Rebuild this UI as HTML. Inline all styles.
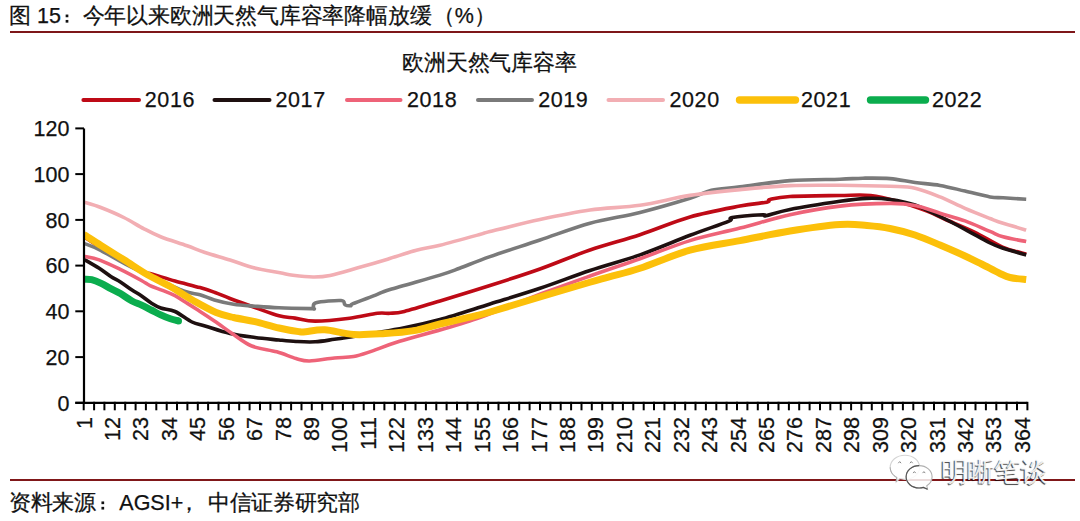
<!DOCTYPE html>
<html><head><meta charset="utf-8"><style>
html,body{margin:0;padding:0;background:#fff;width:1080px;height:521px;overflow:hidden}
body{position:relative;font-family:"Liberation Sans",sans-serif;color:#000}
.t{position:absolute;white-space:nowrap;line-height:1;font-family:"Liberation Sans",sans-serif;-webkit-text-stroke:0.25px #111}
svg{position:absolute;left:0;top:0}
svg text{font-family:"Liberation Sans",sans-serif;font-size:21.5px;fill:#111;stroke:#111;stroke-width:0.25px}
</style></head><body>
<div class="t" style="left:9.3px;top:6.0px;font-size:21.5px;letter-spacing:0.00px;color:#111;">图</div>
<div class="t" style="left:37.0px;top:5.6px;font-size:21.5px;letter-spacing:0.00px;color:#111;">15</div>
<div class="t" style="left:82.7px;top:6.0px;font-size:21.5px;letter-spacing:-0.20px;color:#111;">今年以来欧洲天然气库容率降幅放缓</div>
<div class="t" style="left:432.7px;top:6.0px;font-size:21.5px;letter-spacing:0.00px;color:#111;">（</div>
<div class="t" style="left:454.8px;top:5.6px;font-size:21.5px;letter-spacing:0.00px;color:#111;">%</div>
<div class="t" style="left:474.0px;top:6.0px;font-size:21.5px;letter-spacing:0.00px;color:#111;">）</div>
<div class="t" style="left:402.3px;top:52.5px;font-size:21.5px;letter-spacing:-0.25px;color:#111;">欧洲天然气库容率</div>
<div class="t" style="left:9.0px;top:493.0px;font-size:21.5px;letter-spacing:-0.50px;color:#111;">资料来源</div>
<div class="t" style="left:119.3px;top:493.0px;font-size:21.5px;letter-spacing:0.00px;color:#111;">AGSI+</div>
<div class="t" style="left:177.5px;top:493.0px;font-size:21.5px;letter-spacing:0.00px;color:#111;">，</div>
<div class="t" style="left:207.9px;top:493.0px;font-size:21.5px;letter-spacing:-0.30px;color:#111;">中信证券研究部</div>
<div style="position:absolute;left:10px;top:31px;width:1064.5px;height:2.2px;background:#7E1619"></div>
<svg width="1080" height="521" viewBox="0 0 1080 521">
<line x1="75.3" y1="402.8" x2="84" y2="402.8" stroke="#000" stroke-width="2"/>
<text x="69.4" y="410.5" text-anchor="end">0</text>
<line x1="75.3" y1="357.1" x2="84" y2="357.1" stroke="#000" stroke-width="2"/>
<text x="69.4" y="364.8" text-anchor="end">20</text>
<line x1="75.3" y1="311.3" x2="84" y2="311.3" stroke="#000" stroke-width="2"/>
<text x="69.4" y="319.0" text-anchor="end">40</text>
<line x1="75.3" y1="265.6" x2="84" y2="265.6" stroke="#000" stroke-width="2"/>
<text x="69.4" y="273.3" text-anchor="end">60</text>
<line x1="75.3" y1="219.9" x2="84" y2="219.9" stroke="#000" stroke-width="2"/>
<text x="69.4" y="227.6" text-anchor="end">80</text>
<line x1="75.3" y1="174.1" x2="84" y2="174.1" stroke="#000" stroke-width="2"/>
<text x="69.4" y="181.8" text-anchor="end">100</text>
<line x1="75.3" y1="128.4" x2="84" y2="128.4" stroke="#000" stroke-width="2"/>
<text x="69.4" y="136.1" text-anchor="end">120</text>
<line x1="83.7" y1="401.8" x2="83.7" y2="410.3" stroke="#000" stroke-width="2"/>
<line x1="94.1" y1="401.8" x2="94.1" y2="410.3" stroke="#000" stroke-width="2"/>
<line x1="104.4" y1="401.8" x2="104.4" y2="410.3" stroke="#000" stroke-width="2"/>
<line x1="114.8" y1="401.8" x2="114.8" y2="410.3" stroke="#000" stroke-width="2"/>
<line x1="125.2" y1="401.8" x2="125.2" y2="410.3" stroke="#000" stroke-width="2"/>
<line x1="135.6" y1="401.8" x2="135.6" y2="410.3" stroke="#000" stroke-width="2"/>
<line x1="145.9" y1="401.8" x2="145.9" y2="410.3" stroke="#000" stroke-width="2"/>
<line x1="156.3" y1="401.8" x2="156.3" y2="410.3" stroke="#000" stroke-width="2"/>
<line x1="166.7" y1="401.8" x2="166.7" y2="410.3" stroke="#000" stroke-width="2"/>
<line x1="177.0" y1="401.8" x2="177.0" y2="410.3" stroke="#000" stroke-width="2"/>
<line x1="187.4" y1="401.8" x2="187.4" y2="410.3" stroke="#000" stroke-width="2"/>
<line x1="197.8" y1="401.8" x2="197.8" y2="410.3" stroke="#000" stroke-width="2"/>
<line x1="208.1" y1="401.8" x2="208.1" y2="410.3" stroke="#000" stroke-width="2"/>
<line x1="218.5" y1="401.8" x2="218.5" y2="410.3" stroke="#000" stroke-width="2"/>
<line x1="228.9" y1="401.8" x2="228.9" y2="410.3" stroke="#000" stroke-width="2"/>
<line x1="239.2" y1="401.8" x2="239.2" y2="410.3" stroke="#000" stroke-width="2"/>
<line x1="249.6" y1="401.8" x2="249.6" y2="410.3" stroke="#000" stroke-width="2"/>
<line x1="260.0" y1="401.8" x2="260.0" y2="410.3" stroke="#000" stroke-width="2"/>
<line x1="270.4" y1="401.8" x2="270.4" y2="410.3" stroke="#000" stroke-width="2"/>
<line x1="280.7" y1="401.8" x2="280.7" y2="410.3" stroke="#000" stroke-width="2"/>
<line x1="291.1" y1="401.8" x2="291.1" y2="410.3" stroke="#000" stroke-width="2"/>
<line x1="301.5" y1="401.8" x2="301.5" y2="410.3" stroke="#000" stroke-width="2"/>
<line x1="311.8" y1="401.8" x2="311.8" y2="410.3" stroke="#000" stroke-width="2"/>
<line x1="322.2" y1="401.8" x2="322.2" y2="410.3" stroke="#000" stroke-width="2"/>
<line x1="332.6" y1="401.8" x2="332.6" y2="410.3" stroke="#000" stroke-width="2"/>
<line x1="342.9" y1="401.8" x2="342.9" y2="410.3" stroke="#000" stroke-width="2"/>
<line x1="353.3" y1="401.8" x2="353.3" y2="410.3" stroke="#000" stroke-width="2"/>
<line x1="363.7" y1="401.8" x2="363.7" y2="410.3" stroke="#000" stroke-width="2"/>
<line x1="374.1" y1="401.8" x2="374.1" y2="410.3" stroke="#000" stroke-width="2"/>
<line x1="384.4" y1="401.8" x2="384.4" y2="410.3" stroke="#000" stroke-width="2"/>
<line x1="394.8" y1="401.8" x2="394.8" y2="410.3" stroke="#000" stroke-width="2"/>
<line x1="405.2" y1="401.8" x2="405.2" y2="410.3" stroke="#000" stroke-width="2"/>
<line x1="415.5" y1="401.8" x2="415.5" y2="410.3" stroke="#000" stroke-width="2"/>
<line x1="425.9" y1="401.8" x2="425.9" y2="410.3" stroke="#000" stroke-width="2"/>
<line x1="436.3" y1="401.8" x2="436.3" y2="410.3" stroke="#000" stroke-width="2"/>
<line x1="446.6" y1="401.8" x2="446.6" y2="410.3" stroke="#000" stroke-width="2"/>
<line x1="457.0" y1="401.8" x2="457.0" y2="410.3" stroke="#000" stroke-width="2"/>
<line x1="467.4" y1="401.8" x2="467.4" y2="410.3" stroke="#000" stroke-width="2"/>
<line x1="477.8" y1="401.8" x2="477.8" y2="410.3" stroke="#000" stroke-width="2"/>
<line x1="488.1" y1="401.8" x2="488.1" y2="410.3" stroke="#000" stroke-width="2"/>
<line x1="498.5" y1="401.8" x2="498.5" y2="410.3" stroke="#000" stroke-width="2"/>
<line x1="508.9" y1="401.8" x2="508.9" y2="410.3" stroke="#000" stroke-width="2"/>
<line x1="519.2" y1="401.8" x2="519.2" y2="410.3" stroke="#000" stroke-width="2"/>
<line x1="529.6" y1="401.8" x2="529.6" y2="410.3" stroke="#000" stroke-width="2"/>
<line x1="540.0" y1="401.8" x2="540.0" y2="410.3" stroke="#000" stroke-width="2"/>
<line x1="550.4" y1="401.8" x2="550.4" y2="410.3" stroke="#000" stroke-width="2"/>
<line x1="560.7" y1="401.8" x2="560.7" y2="410.3" stroke="#000" stroke-width="2"/>
<line x1="571.1" y1="401.8" x2="571.1" y2="410.3" stroke="#000" stroke-width="2"/>
<line x1="581.5" y1="401.8" x2="581.5" y2="410.3" stroke="#000" stroke-width="2"/>
<line x1="591.8" y1="401.8" x2="591.8" y2="410.3" stroke="#000" stroke-width="2"/>
<line x1="602.2" y1="401.8" x2="602.2" y2="410.3" stroke="#000" stroke-width="2"/>
<line x1="612.6" y1="401.8" x2="612.6" y2="410.3" stroke="#000" stroke-width="2"/>
<line x1="622.9" y1="401.8" x2="622.9" y2="410.3" stroke="#000" stroke-width="2"/>
<line x1="633.3" y1="401.8" x2="633.3" y2="410.3" stroke="#000" stroke-width="2"/>
<line x1="643.7" y1="401.8" x2="643.7" y2="410.3" stroke="#000" stroke-width="2"/>
<line x1="654.0" y1="401.8" x2="654.0" y2="410.3" stroke="#000" stroke-width="2"/>
<line x1="664.4" y1="401.8" x2="664.4" y2="410.3" stroke="#000" stroke-width="2"/>
<line x1="674.8" y1="401.8" x2="674.8" y2="410.3" stroke="#000" stroke-width="2"/>
<line x1="685.2" y1="401.8" x2="685.2" y2="410.3" stroke="#000" stroke-width="2"/>
<line x1="695.5" y1="401.8" x2="695.5" y2="410.3" stroke="#000" stroke-width="2"/>
<line x1="705.9" y1="401.8" x2="705.9" y2="410.3" stroke="#000" stroke-width="2"/>
<line x1="716.3" y1="401.8" x2="716.3" y2="410.3" stroke="#000" stroke-width="2"/>
<line x1="726.6" y1="401.8" x2="726.6" y2="410.3" stroke="#000" stroke-width="2"/>
<line x1="737.0" y1="401.8" x2="737.0" y2="410.3" stroke="#000" stroke-width="2"/>
<line x1="747.4" y1="401.8" x2="747.4" y2="410.3" stroke="#000" stroke-width="2"/>
<line x1="757.8" y1="401.8" x2="757.8" y2="410.3" stroke="#000" stroke-width="2"/>
<line x1="768.1" y1="401.8" x2="768.1" y2="410.3" stroke="#000" stroke-width="2"/>
<line x1="778.5" y1="401.8" x2="778.5" y2="410.3" stroke="#000" stroke-width="2"/>
<line x1="788.9" y1="401.8" x2="788.9" y2="410.3" stroke="#000" stroke-width="2"/>
<line x1="799.2" y1="401.8" x2="799.2" y2="410.3" stroke="#000" stroke-width="2"/>
<line x1="809.6" y1="401.8" x2="809.6" y2="410.3" stroke="#000" stroke-width="2"/>
<line x1="820.0" y1="401.8" x2="820.0" y2="410.3" stroke="#000" stroke-width="2"/>
<line x1="830.3" y1="401.8" x2="830.3" y2="410.3" stroke="#000" stroke-width="2"/>
<line x1="840.7" y1="401.8" x2="840.7" y2="410.3" stroke="#000" stroke-width="2"/>
<line x1="851.1" y1="401.8" x2="851.1" y2="410.3" stroke="#000" stroke-width="2"/>
<line x1="861.4" y1="401.8" x2="861.4" y2="410.3" stroke="#000" stroke-width="2"/>
<line x1="871.8" y1="401.8" x2="871.8" y2="410.3" stroke="#000" stroke-width="2"/>
<line x1="882.2" y1="401.8" x2="882.2" y2="410.3" stroke="#000" stroke-width="2"/>
<line x1="892.6" y1="401.8" x2="892.6" y2="410.3" stroke="#000" stroke-width="2"/>
<line x1="902.9" y1="401.8" x2="902.9" y2="410.3" stroke="#000" stroke-width="2"/>
<line x1="913.3" y1="401.8" x2="913.3" y2="410.3" stroke="#000" stroke-width="2"/>
<line x1="923.7" y1="401.8" x2="923.7" y2="410.3" stroke="#000" stroke-width="2"/>
<line x1="934.0" y1="401.8" x2="934.0" y2="410.3" stroke="#000" stroke-width="2"/>
<line x1="944.4" y1="401.8" x2="944.4" y2="410.3" stroke="#000" stroke-width="2"/>
<line x1="954.8" y1="401.8" x2="954.8" y2="410.3" stroke="#000" stroke-width="2"/>
<line x1="965.1" y1="401.8" x2="965.1" y2="410.3" stroke="#000" stroke-width="2"/>
<line x1="975.5" y1="401.8" x2="975.5" y2="410.3" stroke="#000" stroke-width="2"/>
<line x1="985.9" y1="401.8" x2="985.9" y2="410.3" stroke="#000" stroke-width="2"/>
<line x1="996.3" y1="401.8" x2="996.3" y2="410.3" stroke="#000" stroke-width="2"/>
<line x1="1006.6" y1="401.8" x2="1006.6" y2="410.3" stroke="#000" stroke-width="2"/>
<line x1="1017.0" y1="401.8" x2="1017.0" y2="410.3" stroke="#000" stroke-width="2"/>
<line x1="1027.4" y1="401.8" x2="1027.4" y2="410.3" stroke="#000" stroke-width="2"/>
<text transform="translate(91.5,417) rotate(-90)" text-anchor="end">1</text>
<text transform="translate(119.9,417) rotate(-90)" text-anchor="end">12</text>
<text transform="translate(148.4,417) rotate(-90)" text-anchor="end">23</text>
<text transform="translate(176.8,417) rotate(-90)" text-anchor="end">34</text>
<text transform="translate(205.2,417) rotate(-90)" text-anchor="end">45</text>
<text transform="translate(233.7,417) rotate(-90)" text-anchor="end">56</text>
<text transform="translate(262.1,417) rotate(-90)" text-anchor="end">67</text>
<text transform="translate(290.5,417) rotate(-90)" text-anchor="end">78</text>
<text transform="translate(319.0,417) rotate(-90)" text-anchor="end">89</text>
<text transform="translate(347.4,417) rotate(-90)" text-anchor="end">100</text>
<text transform="translate(375.9,417) rotate(-90)" text-anchor="end">111</text>
<text transform="translate(404.3,417) rotate(-90)" text-anchor="end">122</text>
<text transform="translate(432.7,417) rotate(-90)" text-anchor="end">133</text>
<text transform="translate(461.2,417) rotate(-90)" text-anchor="end">144</text>
<text transform="translate(489.6,417) rotate(-90)" text-anchor="end">155</text>
<text transform="translate(518.0,417) rotate(-90)" text-anchor="end">166</text>
<text transform="translate(546.5,417) rotate(-90)" text-anchor="end">177</text>
<text transform="translate(574.9,417) rotate(-90)" text-anchor="end">188</text>
<text transform="translate(603.3,417) rotate(-90)" text-anchor="end">199</text>
<text transform="translate(631.8,417) rotate(-90)" text-anchor="end">210</text>
<text transform="translate(660.2,417) rotate(-90)" text-anchor="end">221</text>
<text transform="translate(688.6,417) rotate(-90)" text-anchor="end">232</text>
<text transform="translate(717.1,417) rotate(-90)" text-anchor="end">243</text>
<text transform="translate(745.5,417) rotate(-90)" text-anchor="end">254</text>
<text transform="translate(773.9,417) rotate(-90)" text-anchor="end">265</text>
<text transform="translate(802.4,417) rotate(-90)" text-anchor="end">276</text>
<text transform="translate(830.8,417) rotate(-90)" text-anchor="end">287</text>
<text transform="translate(859.2,417) rotate(-90)" text-anchor="end">298</text>
<text transform="translate(887.7,417) rotate(-90)" text-anchor="end">309</text>
<text transform="translate(916.1,417) rotate(-90)" text-anchor="end">320</text>
<text transform="translate(944.5,417) rotate(-90)" text-anchor="end">331</text>
<text transform="translate(973.0,417) rotate(-90)" text-anchor="end">342</text>
<text transform="translate(1001.4,417) rotate(-90)" text-anchor="end">353</text>
<text transform="translate(1029.9,417) rotate(-90)" text-anchor="end">364</text>
<defs><clipPath id="pc"><rect x="84" y="120" width="960" height="290"/></clipPath></defs><g clip-path="url(#pc)">
<path d="M83.8,236.5 C86.4,238.2 93.1,242.8 99.2,246.5 C105.3,250.2 113.3,254.8 120.3,259.0 C127.3,263.2 136.5,269.6 141.4,272.0 C146.3,274.4 144.4,272.1 150.0,273.6 C155.6,275.1 166.7,278.7 175.0,281.0 C183.3,283.3 193.3,285.7 200.0,287.6 C206.7,289.5 210.0,290.7 215.0,292.5 C220.0,294.3 223.3,296.0 230.0,298.5 C236.7,301.0 246.8,304.6 255.0,307.5 C263.2,310.4 272.3,314.0 279.0,315.8 C285.7,317.6 289.0,317.2 295.0,318.1 C301.0,319.0 306.1,321.1 315.2,321.1 C324.3,321.1 339.3,319.5 349.7,318.2 C360.1,316.9 370.8,314.1 377.5,313.3 C384.2,312.5 385.5,313.6 390.0,313.3 C394.5,313.0 396.1,313.4 404.4,311.4 C412.7,309.3 425.7,305.3 440.0,301.0 C454.3,296.7 473.3,290.8 490.0,285.5 C506.7,280.2 523.3,274.9 540.0,269.0 C556.7,263.1 573.3,255.7 590.0,250.0 C606.7,244.3 623.3,240.2 640.0,234.7 C656.7,229.2 673.3,221.8 690.0,217.0 C706.7,212.2 727.2,208.6 740.0,206.1 C752.8,203.6 761.8,203.3 766.8,202.2 C771.8,201.1 766.1,200.4 770.0,199.5 C773.9,198.6 778.3,197.2 790.0,196.5 C801.7,195.8 826.5,195.7 840.0,195.5 C853.5,195.3 861.1,194.5 870.7,195.5 C880.3,196.5 888.3,198.7 897.6,201.3 C906.9,203.9 918.4,207.9 926.4,210.9 C934.4,213.9 937.6,216.0 945.6,219.5 C953.6,223.0 964.8,227.4 974.4,232.0 C984.0,236.6 994.5,243.6 1003.1,247.3 C1011.7,251.0 1022.4,252.9 1026.2,254.0" fill="none" stroke="#BE0A16" stroke-width="3.6" stroke-linejoin="round" stroke-linecap="butt"/>
<path d="M83.8,259.2 C86.4,260.7 94.7,265.4 99.2,268.3 C103.7,271.2 107.3,274.2 110.8,276.5 C114.3,278.8 116.9,279.8 120.4,282.0 C123.9,284.2 128.5,287.7 132.0,290.0 C135.5,292.3 138.4,293.8 141.6,296.0 C144.8,298.2 148.0,301.0 151.2,303.0 C154.4,305.0 156.8,306.6 160.8,308.0 C164.8,309.4 169.8,309.2 175.0,311.5 C180.2,313.8 187.0,319.6 192.0,322.0 C197.0,324.4 198.7,324.1 205.0,326.0 C211.3,327.9 221.7,331.6 230.0,333.5 C238.3,335.4 246.8,336.4 255.0,337.5 C263.2,338.6 272.2,339.3 279.0,340.0 C285.8,340.7 290.0,341.2 296.0,341.5 C302.0,341.8 308.8,342.2 315.2,341.8 C321.6,341.4 328.5,340.1 334.4,339.3 C340.3,338.5 338.9,338.9 350.6,337.0 C362.3,335.1 389.5,330.6 404.4,327.7 C419.3,324.8 425.7,323.4 440.0,319.5 C454.3,315.6 473.3,309.2 490.0,304.0 C506.7,298.8 523.3,293.9 540.0,288.3 C556.7,282.7 573.3,276.1 590.0,270.5 C606.7,264.9 623.3,260.8 640.0,254.9 C656.7,249.0 675.3,240.9 690.0,235.3 C704.7,229.7 721.4,224.4 728.4,221.4 C735.4,218.4 726.5,218.7 732.2,217.6 C738.0,216.5 757.3,215.0 762.9,214.7 C768.5,214.4 761.5,216.6 766.0,215.7 C770.5,214.8 777.7,211.9 790.0,209.5 C802.3,207.1 827.2,203.2 840.0,201.3 C852.8,199.5 858.5,198.7 866.8,198.4 C875.1,198.1 882.0,198.4 890.0,199.5 C898.0,200.6 906.7,202.2 915.0,205.0 C923.3,207.8 931.7,212.4 940.0,216.5 C948.3,220.6 956.8,225.0 965.0,229.3 C973.2,233.6 982.6,239.3 989.0,242.5 C995.4,245.7 996.9,246.2 1003.1,248.3 C1009.3,250.4 1022.4,253.9 1026.2,255.0" fill="none" stroke="#1E1010" stroke-width="3.6" stroke-linejoin="round" stroke-linecap="butt"/>
<path d="M83.8,256.3 C86.4,256.9 93.1,257.7 99.2,259.9 C105.3,262.1 113.3,266.0 120.3,269.4 C127.3,272.8 136.5,277.8 141.4,280.5 C146.3,283.2 146.5,284.0 150.0,285.6 C153.5,287.2 158.3,288.7 162.5,290.4 C166.7,292.1 170.8,293.5 175.0,295.7 C179.2,297.9 183.2,300.8 187.4,303.4 C191.6,306.0 195.5,308.6 200.0,311.5 C204.5,314.4 208.8,317.2 214.4,321.0 C220.0,324.8 227.4,330.3 233.6,334.5 C239.8,338.7 244.6,343.1 251.8,346.0 C259.0,348.9 269.4,349.7 276.8,351.8 C284.2,353.9 290.6,357.0 296.0,358.5 C301.4,360.0 303.0,361.1 309.4,361.0 C315.8,360.9 327.0,358.7 334.4,358.0 C341.8,357.3 347.2,357.8 353.6,356.6 C360.0,355.4 365.0,353.4 372.7,350.9 C380.4,348.3 383.5,346.3 399.6,341.3 C415.8,336.3 445.2,329.2 469.6,321.0 C494.0,312.8 525.9,299.5 546.0,292.0 C566.1,284.5 574.3,281.6 590.0,276.0 C605.7,270.4 623.3,264.6 640.0,258.7 C656.7,252.8 673.3,245.7 690.0,240.6 C706.7,235.5 723.3,232.4 740.0,228.1 C756.7,223.8 773.3,218.4 790.0,214.7 C806.7,211.0 823.3,208.0 840.0,206.1 C856.7,204.2 877.5,203.5 890.0,203.4 C902.5,203.3 906.7,203.9 915.0,205.5 C923.3,207.1 931.7,210.6 940.0,213.2 C948.3,215.8 956.7,217.9 965.0,220.9 C973.3,223.9 983.6,228.8 990.0,231.4 C996.4,234.1 997.1,235.1 1003.1,236.8 C1009.1,238.5 1022.4,240.8 1026.2,241.6" fill="none" stroke="#EE6378" stroke-width="3.6" stroke-linejoin="round" stroke-linecap="butt"/>
<path d="M83.8,243.3 C86.4,244.4 91.8,245.9 99.2,249.6 C106.6,253.3 119.5,261.0 128.0,265.4 C136.5,269.8 140.7,271.8 150.0,276.0 C159.3,280.2 175.3,287.8 183.6,290.9 C191.9,294.0 194.9,293.3 200.0,294.8 C205.1,296.3 208.8,298.3 214.4,299.9 C220.0,301.5 226.8,303.1 233.6,304.2 C240.4,305.2 247.4,305.6 255.0,306.2 C262.6,306.8 269.6,307.4 279.0,307.8 C288.4,308.2 305.6,308.5 311.3,308.6 C317.1,308.7 312.7,309.5 313.5,308.5 C314.3,307.5 311.4,304.1 316.0,302.8 C320.6,301.5 336.2,300.2 341.0,300.5 C345.8,300.8 343.3,303.8 344.9,304.7 C346.5,305.6 349.2,305.9 350.6,305.7 C352.0,305.5 348.8,305.5 353.0,303.7 C357.2,301.9 369.4,297.5 375.6,295.1 C381.8,292.7 379.3,292.8 390.0,289.5 C400.7,286.2 428.4,278.6 440.0,275.1 C451.6,271.6 451.3,271.4 459.6,268.3 C467.9,265.2 476.6,261.3 490.0,256.6 C503.4,251.9 523.3,245.6 540.0,240.0 C556.7,234.4 573.3,227.8 590.0,223.2 C606.7,218.6 623.3,216.6 640.0,212.4 C656.7,208.2 678.1,201.9 690.0,198.2 C701.9,194.5 703.1,192.1 711.4,190.2 C719.7,188.3 726.9,188.5 740.0,186.9 C753.1,185.3 773.3,181.9 790.0,180.6 C806.7,179.3 827.8,179.6 840.0,179.2 C852.2,178.8 854.7,178.3 863.0,178.2 C871.3,178.1 881.3,177.9 890.0,178.6 C898.7,179.3 906.7,181.4 915.0,182.5 C923.3,183.6 931.7,184.0 940.0,185.4 C948.3,186.8 956.7,189.2 965.0,191.1 C973.3,193.0 983.6,195.8 990.0,196.9 C996.4,198.0 997.1,197.4 1003.1,197.8 C1009.1,198.2 1022.4,199.1 1026.2,199.3" fill="none" stroke="#7A7A7A" stroke-width="3.6" stroke-linejoin="round" stroke-linecap="butt"/>
<path d="M83.8,202.1 C86.6,203.0 94.1,204.9 100.8,207.5 C107.5,210.1 116.6,213.9 123.8,217.5 C131.0,221.1 137.8,225.6 144.0,228.8 C150.2,232.1 154.0,234.2 161.2,237.0 C168.4,239.8 179.8,243.2 187.1,245.8 C194.4,248.4 197.8,250.1 205.0,252.5 C212.2,254.9 222.0,257.5 230.0,260.0 C238.0,262.5 244.5,265.4 252.8,267.5 C261.1,269.6 273.3,271.5 280.0,272.8 C286.7,274.1 287.5,274.6 293.0,275.3 C298.5,276.0 306.8,277.0 313.0,277.0 C319.2,277.0 322.4,277.1 330.0,275.5 C337.6,273.9 349.2,270.3 358.8,267.6 C368.4,264.9 378.0,262.1 387.6,259.2 C397.2,256.3 407.7,252.6 416.4,250.3 C425.1,248.0 429.4,247.8 440.0,245.2 C450.6,242.6 471.4,236.8 479.7,234.5 C488.0,232.2 479.9,234.0 490.0,231.5 C500.1,229.0 523.3,223.1 540.0,219.5 C556.7,215.9 573.3,212.4 590.0,210.0 C606.7,207.6 623.3,207.6 640.0,205.2 C656.7,202.8 673.3,198.0 690.0,195.4 C706.7,192.8 723.3,191.2 740.0,189.6 C756.7,188.0 773.3,186.3 790.0,185.6 C806.7,184.9 823.3,185.2 840.0,185.3 C856.7,185.4 877.5,185.8 890.0,186.3 C902.5,186.8 906.7,186.4 915.0,188.2 C923.3,190.0 931.7,193.5 940.0,196.9 C948.3,200.3 956.7,204.8 965.0,208.4 C973.3,212.0 983.6,216.0 990.0,218.5 C996.4,221.0 997.1,221.4 1003.1,223.3 C1009.1,225.2 1022.4,229.0 1026.2,230.1" fill="none" stroke="#F2AEB3" stroke-width="3.6" stroke-linejoin="round" stroke-linecap="butt"/>
<path d="M83.8,234.5 C86.7,236.3 94.3,241.3 101.0,245.5 C107.7,249.7 116.3,255.0 124.0,259.8 C131.7,264.6 139.4,270.1 147.1,274.5 C154.8,278.9 162.5,282.2 170.2,286.5 C177.9,290.8 185.5,296.2 193.2,300.5 C200.9,304.8 209.5,309.7 216.2,312.5 C222.9,315.3 227.1,316.0 233.6,317.5 C240.1,319.0 247.4,319.9 255.0,321.6 C262.6,323.4 271.7,326.3 279.0,328.0 C286.3,329.7 294.4,331.0 298.8,331.6 C303.2,332.2 301.3,332.0 305.6,331.7 C309.9,331.4 316.8,329.3 324.8,329.8 C332.8,330.3 343.5,333.9 353.6,334.5 C363.7,335.1 375.1,334.1 385.2,333.5 C395.3,332.9 404.9,332.2 414.0,330.6 C423.1,329.0 430.7,326.2 440.0,324.0 C449.3,321.8 461.3,319.2 469.6,317.2 C477.9,315.2 478.3,315.4 490.0,312.0 C501.7,308.6 523.5,301.9 540.0,297.0 C556.5,292.1 577.5,285.9 589.0,282.5 C600.5,279.1 600.7,279.3 609.2,276.9 C617.7,274.5 626.5,272.8 640.0,268.3 C653.5,263.9 673.3,254.8 690.0,250.2 C706.7,245.6 723.3,243.8 740.0,240.6 C756.7,237.4 773.3,233.7 790.0,231.0 C806.7,228.3 827.2,225.4 840.0,224.5 C852.8,223.6 858.7,224.8 867.0,225.5 C875.3,226.2 882.0,226.9 890.0,228.5 C898.0,230.1 906.7,232.2 915.0,235.0 C923.3,237.8 931.7,241.5 940.0,245.0 C948.3,248.5 958.1,252.8 965.0,256.0 C971.9,259.2 975.8,261.2 981.5,264.0 C987.2,266.8 994.2,270.8 999.0,273.0 C1003.8,275.2 1005.5,276.4 1010.0,277.5 C1014.5,278.6 1023.5,279.2 1026.2,279.5" fill="none" stroke="#FCC00A" stroke-width="7.0" stroke-linejoin="round" stroke-linecap="butt"/>
<path d="M84.5,279.2 C85.7,279.3 88.8,279.0 91.6,279.7 C94.4,280.4 98.0,281.9 101.2,283.4 C104.4,284.9 107.6,286.9 110.8,288.6 C114.0,290.3 116.9,291.5 120.4,293.6 C123.9,295.7 128.5,299.1 132.0,301.0 C135.5,302.9 138.4,303.7 141.6,305.2 C144.8,306.7 148.0,308.4 151.2,310.0 C154.4,311.6 157.6,313.4 160.8,314.9 C164.0,316.4 167.5,317.8 170.4,318.8 C173.3,319.8 177.2,320.6 178.5,321.0" fill="none" stroke="#0BAD4E" stroke-width="7.0" stroke-linejoin="round" stroke-linecap="butt"/>
<circle cx="178.5" cy="321.0" r="3.5" fill="#0BAD4E"/>
</g>
<rect x="65.65" y="14.55" width="2.7" height="2.7" fill="#111"/>
<rect x="65.65" y="19.95" width="2.7" height="2.7" fill="#111"/>
<rect x="101.45" y="501.45" width="2.7" height="2.7" fill="#111"/>
<rect x="101.45" y="506.85" width="2.7" height="2.7" fill="#111"/>
<line x1="84" y1="128.4" x2="84" y2="403.8" stroke="#000" stroke-width="2.2"/>
<line x1="75.3" y1="402.8" x2="1027.2" y2="402.8" stroke="#000" stroke-width="2.2"/>
<line x1="83.4" y1="100" x2="139.0" y2="100" stroke="#BE0A16" stroke-width="4.0" stroke-linecap="round"/>
<text x="144.8" y="107.2" letter-spacing="0.6">2016</text>
<line x1="214.5" y1="100" x2="269.5" y2="100" stroke="#1E1010" stroke-width="4.0" stroke-linecap="round"/>
<text x="275.5" y="107.2" letter-spacing="0.6">2017</text>
<line x1="347.0" y1="100" x2="400.5" y2="100" stroke="#EE6378" stroke-width="4.0" stroke-linecap="round"/>
<text x="407.0" y="107.2" letter-spacing="0.6">2018</text>
<line x1="478.0" y1="100" x2="532.0" y2="100" stroke="#7A7A7A" stroke-width="4.0" stroke-linecap="round"/>
<text x="538.2" y="107.2" letter-spacing="0.6">2019</text>
<line x1="608.5" y1="100" x2="663.0" y2="100" stroke="#F2AEB3" stroke-width="4.0" stroke-linecap="round"/>
<text x="669.5" y="107.2" letter-spacing="0.6">2020</text>
<line x1="739.5" y1="100" x2="795.5" y2="100" stroke="#FCC00A" stroke-width="7.4" stroke-linecap="round"/>
<text x="801.0" y="107.2" letter-spacing="0.6">2021</text>
<line x1="870.5" y1="100" x2="925.5" y2="100" stroke="#0BAD4E" stroke-width="7.4" stroke-linecap="round"/>
<text x="932.0" y="107.2" letter-spacing="0.6">2022</text>
</svg>
<div style="position:absolute;left:10px;top:478.6px;width:1064.5px;height:2.2px;background:#801719"></div>
<svg width="1080" height="521" viewBox="0 0 1080 521" style="position:absolute;left:0;top:0">
<g fill="rgba(255,255,255,0.85)" stroke-width="1.1">
<path d="M904.9,455.2 C913.2,455.2 919.6,460.6 919.6,467.3 C919.6,474 913.2,479.4 904.9,479.4 C903,479.4 901.2,479.1 899.6,478.6 L896.2,482 L896.8,477.5 C892.6,475.3 890.2,471.5 890.2,467.3 C890.2,460.6 896.6,455.2 904.9,455.2 Z" stroke="#d4d4d4"/>
<path d="M919.1,465.6 C926.3,465.6 932.1,470.6 932.1,476.8 C932.1,480.6 930,483.8 926.8,485.8 L927.5,489.3 L923.4,487.4 C922,487.8 920.6,488 919.1,488 C911.9,488 906.1,483 906.1,476.8 C906.1,470.6 911.9,465.6 919.1,465.6 Z" stroke="#b0b0b0"/>
</g>
<path d="M919.1,465.6 C911.9,465.6 906.1,470.6 906.1,476.8 C906.1,483 911.9,488 919.1,488 C920.6,488 922,487.8 923.4,487.4 L927.5,489.3" fill="none" stroke="#555" stroke-width="1.1"/>
<path d="M890.2,467.3 C890.2,471.5 892.6,475.3 896.8,477.5 L896.2,482" fill="none" stroke="#aaa" stroke-width="1"/>
<g fill="none" stroke="#888" stroke-width="1">
<path d="M898.3,463.2 l1.4,-1.6 l1.4,1.6"/><path d="M909.9,463.2 l1.4,-1.6 l1.4,1.6"/>
<path d="M913.1,473.1 l1.3,-1.5 l1.3,1.5"/><path d="M922.6,473.1 l1.3,-1.5 l1.3,1.5"/>
</g></svg>
<div class="t" style="left:940.5px;top:458.5px;font-size:26.5px;letter-spacing:-0.30px;color:rgba(255,255,255,0.9);-webkit-text-stroke:0;text-shadow:-1px 1px 0.8px rgba(0,0,0,0.6), -0.5px 0.5px 0.3px rgba(0,0,0,0.3)">明晰笔谈</div>
</body></html>
